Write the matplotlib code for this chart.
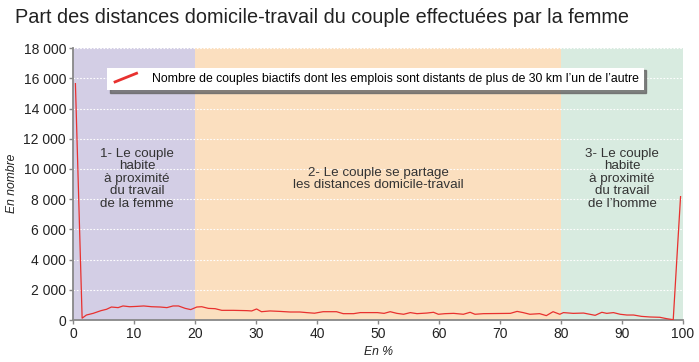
import matplotlib
matplotlib.use('Agg')
import matplotlib.pyplot as plt
from matplotlib.lines import Line2D
from matplotlib.legend_handler import HandlerBase

plt.rcParams['font.family'] = ['Liberation Sans', 'DejaVu Sans']

# ------------------------------------------------------------
#  Data
# ------------------------------------------------------------
pct = [0.4, 1.5, 2.2, 3.3, 4.6, 5.5, 6.3, 7.4, 8.2, 9.3,
       10.4, 11.6, 12.9, 14.3, 15.4, 16.4, 17.3, 18.4, 19.3, 20.3,
       21.1, 22.2, 23.3, 24.4, 26.3, 28.5, 29.3, 30.1, 30.9, 32.3,
       33.9, 35.6, 37.2, 38.3, 39.6, 41.0, 43.2, 44.3, 46.0, 47.1,
       49.9, 51.0, 52.0, 53.1, 54.2, 55.3, 56.4, 58.0, 59.1, 59.9,
       61.0, 62.4, 64.0, 65.1, 65.9, 67.3, 71.7, 72.8, 73.8, 74.9,
       76.5, 77.6, 78.7, 79.8, 80.4, 82.0, 83.7, 85.6, 86.7, 87.5,
       88.6, 89.7, 90.8, 91.9, 93.2, 94.6, 96.2, 97.3, 98.4, 99.6]
couples = [15650, 120, 330, 440, 620, 710, 860, 820, 930, 880,
           900, 930, 880, 860, 820, 930, 930, 770, 690, 860,
           880, 770, 750, 640, 640, 620, 600, 730, 550, 600,
           570, 530, 530, 490, 450, 550, 550, 420, 420, 490,
           490, 440, 550, 440, 380, 490, 420, 460, 510, 380,
           420, 440, 380, 510, 380, 420, 440, 570, 490, 380,
           420, 290, 550, 380, 490, 440, 460, 310, 510, 440,
           490, 380, 330, 330, 240, 200, 180, 90, 20, 8170]

zones = [(0, 20), (20, 80), (80, 100)]
zone_colors = ['#d3cee5', '#fbdfbf', '#d8ebe0']
zone_labels = ["1- Le couple\nhabite\nà proximité\ndu travail\nde la femme",
               "2- Le couple se partage\nles distances domicile-travail",
               "3- Le couple\nhabite\nà proximité\ndu travail\nde l\u2019homme"]
zone_label_x = [10.5, 50, 90]

yticks = list(range(0, 18001, 2000))
ytick_labels = ['{:,}'.format(v).replace(',', ' ') for v in yticks]
xticks = list(range(0, 101, 10))

series_label = ("Nombre de couples biactifs dont les emplois sont distants "
                "de plus de 30 km l\u2019un de l\u2019autre")
RED = '#e8312f'
TXT = '#222222'


class DiagonalHandler(HandlerBase):
    """Legend key drawn as a slanted line segment."""
    def create_artists(self, legend, orig_handle, xdescent, ydescent,
                       width, height, fontsize, trans):
        x0, y0 = -xdescent + 2, -ydescent
        ln = Line2D([x0, x0 + width - 4], [y0, y0 + height],
                    color=orig_handle.get_color(), lw=2, transform=trans)
        return [ln]


fig = plt.figure(figsize=(6.99, 3.62), dpi=100)
ax = fig.add_axes([0.1044, 0.116, 0.8727, 0.751])

for (a, b), c in zip(zones, zone_colors):
    ax.axvspan(a, b, color=c, lw=0, zorder=0)

ax.yaxis.grid(True, color='white', linestyle=(0, (1.5, 1.5)), lw=0.8, zorder=1)
ax.set_axisbelow(True)

line, = ax.plot(pct, couples, color=RED, lw=0.9, zorder=3, label=series_label)

for lab, xc in zip(zone_labels, zone_label_x):
    ax.text(xc, 9350, lab, ha='center', va='center', fontsize=9.6,
            color='#333333', linespacing=1.06, zorder=2)

ax.set_xlim(0, 100)
ax.set_ylim(0, 18000)
ax.set_xticks(xticks)
ax.set_yticks(yticks)
ax.set_yticklabels(ytick_labels)
ax.tick_params(axis='both', labelsize=10, colors='#888888', labelcolor=TXT,
               length=3, width=1, pad=2)

for s in ['top', 'right']:
    ax.spines[s].set_visible(False)
for s in ['left', 'bottom']:
    ax.spines[s].set_color('#888888')
    ax.spines[s].set_linewidth(1.3)

leg = ax.legend(handles=[line], loc='upper left', bbox_to_anchor=(0.056, 0.928),
                borderaxespad=0, fontsize=8.85, frameon=True, fancybox=False,
                shadow={'color': '#666666', 'alpha': 0.8}, framealpha=1,
                handlelength=2.2, handletextpad=1.0, borderpad=0.42,
                handler_map={Line2D: DiagonalHandler()})
leg.get_frame().set_edgecolor('none')
leg.set_zorder(5)

fig.text(0.021, 0.951, "Part des distances domicile-travail du couple effectuées par la femme",
         fontsize=14.3, color=TXT, ha='left', va='center')
fig.text(0.017, 0.494, "En nombre", rotation=90, style='italic', fontsize=8.7,
         color=TXT, ha='center', va='center')
fig.text(0.541, 0.027, "En %", style='italic', fontsize=8.7, color=TXT,
         ha='center', va='center')

fig.savefig('out.png', dpi=100)
